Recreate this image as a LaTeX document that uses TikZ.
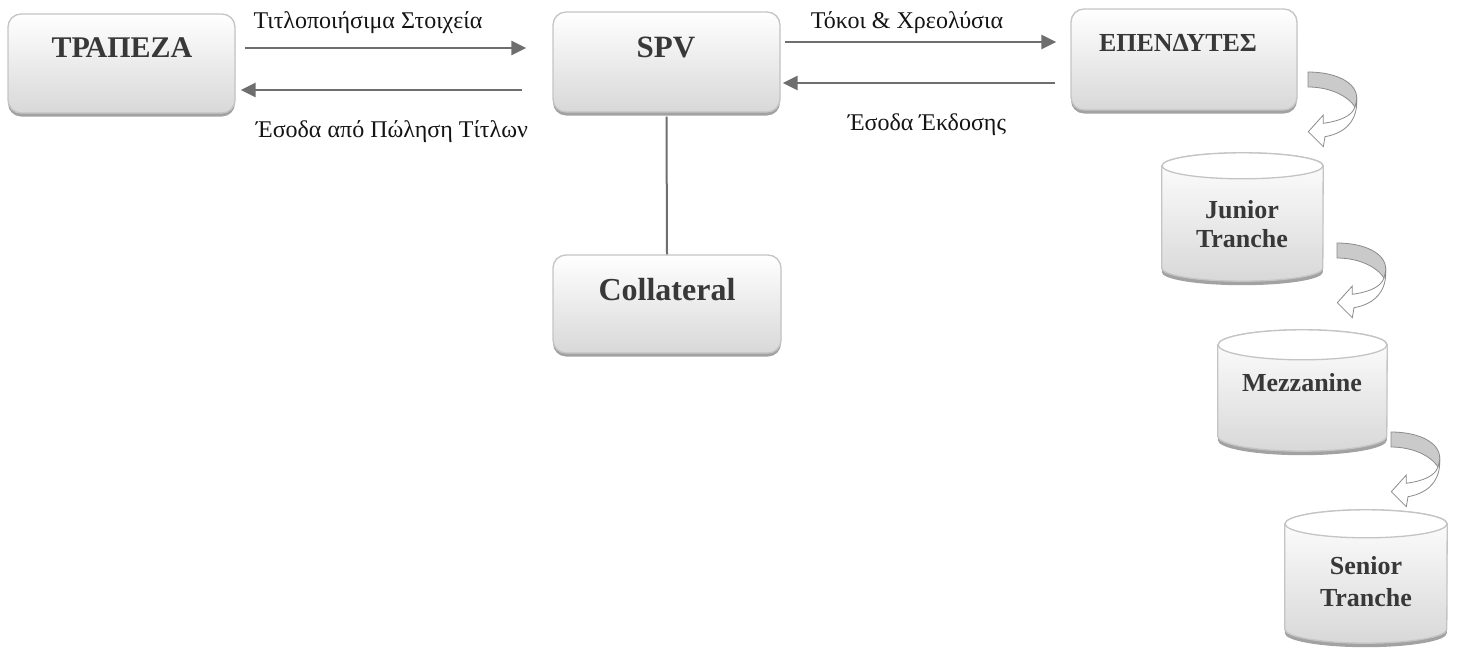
\documentclass[tikz,border=0pt]{standalone}
\usepackage{fontspec}
\setmainfont{Liberation Serif}
\usetikzlibrary{arrows.meta,shadows,calc}

\definecolor{edgegray}{HTML}{C4C4C4}
\definecolor{fillbot}{HTML}{D8D8D8}
\definecolor{shadowgray}{HTML}{A2A2A2}
\definecolor{flowgray}{HTML}{6E6E6E}
\definecolor{inkgray}{HTML}{383838}
\definecolor{bandgray}{HTML}{CACACA}
\definecolor{outlinegray}{HTML}{8A8A8A}

\tikzset{
  panel/.style={draw=edgegray, line width=1.3pt, rounded corners=13pt,
    top color=white, bottom color=fillbot, inner sep=0pt,
    drop shadow={shadow xshift=0pt, shadow yshift=-3.5pt, fill=shadowgray, opacity=1}},
  title/.style={font=\bfseries\fontsize{#1}{#1}\selectfont, text=inkgray, inner sep=0pt},
  caption/.style={font=\fontsize{24}{28}\selectfont, text=black!92, inner sep=0pt, anchor=base},
  flow/.style={draw=flowgray, line width=2.8pt, -{Triangle[length=15pt,width=14pt]}},
  tie/.style={draw=flowgray, line width=2pt},
  drumbody/.style={draw=edgegray, line width=1.3pt, top color=white, bottom color=fillbot,
    drop shadow={shadow xshift=0pt, shadow yshift=-4pt, fill=shadowgray, opacity=1}},
  drumtop/.style={draw=edgegray, line width=1.3pt, fill=white},
  turnarrow/.pic={
    % shaded back of the band
    \path[fill=bandgray, draw=outlinegray, line width=0.8pt]
      (0,0) .. controls (27,0) and (48.7,10) .. (48.7,26) -- (48.7,30)
      -- (47,35) .. controls (40,24) and (22,15) .. (0,15) -- cycle;
    % front of the band with the head
    \path[fill=white, draw=outlinegray, line width=0.8pt]
      (48.7,28) .. controls (49.5,48) and (38,61) .. (17,64.7)
      -- (15.3,74.7) -- (0.3,59.7) -- (15.3,43) -- (15.3,51.3)
      .. controls (32,49) and (44,44) .. (47,35) -- cycle;
  }
}

% cylinder: name, centre x, top y, width, height, half-height of the end ellipse
\newcommand\trancheDrum[6]{%
  \node[inner sep=0pt, minimum width=#4pt, minimum height=#5pt] (#1) at (#2,#3+#5/2) {};
  \path[drumbody] ($(#1.north west)+(0,#6)$) -- ($(#1.south west)+(0,-#6)$)
    arc[start angle=180, end angle=0, x radius=#4/2, y radius=#6]
    -- ($(#1.north east)+(0,#6)$)
    arc[start angle=0, end angle=-180, x radius=#4/2, y radius=#6] -- cycle;
  \path[drumtop] ($(#1.north)+(0,#6)$) ellipse[x radius=#4/2, y radius=#6];
}

\begin{document}
\begin{tikzpicture}[x=1pt, y=-1pt]
\useasboundingbox (0,0) rectangle (1457,648);

% boxes
\node[panel, minimum width=227pt, minimum height=99pt] (bank) at (121.5,63.5) {};
\node[panel, minimum width=227pt, minimum height=100pt] (spv) at (666.5,62) {};
\node[panel, minimum width=226pt, minimum height=101pt] (inv) at (1184,59.5) {};
\node[panel, minimum width=228pt, minimum height=98pt] (coll) at (667,304) {};

\node[title=30] (bankname) at (122,48) {ΤΡΑΠΕΖΑ};
\node[title=31] (spvname) at (666,47.5) {SPV};
\node[title=26] (invname) at (1178,43) {ΕΠΕΝΔΥΤΕΣ};
\node[title=32] (collname) at (667,290) {Collateral};

% flows between the parties
\draw[flow] ([xshift=9pt,yshift=15.5pt]bank.east) -- ([xshift=-26pt,yshift=14pt]spv.west);
\draw[flow] ([xshift=-30pt,yshift=-28pt]spv.west) -- ([xshift=5pt,yshift=-26.5pt]bank.east);
\draw[flow] ([xshift=4pt,yshift=20pt]spv.east) -- ([xshift=-14pt,yshift=17.5pt]inv.west);
\draw[flow] ([xshift=-15pt,yshift=-23.5pt]inv.west) -- ([xshift=2pt,yshift=-21pt]spv.east);
\draw[tie] ([yshift=-4pt]spv.south) -- (coll.north);

\node[caption] (lab1) at (368,28) {Τιτλοποιήσιμα Στοιχεία};
\node[caption] (lab2) at (392,137) {Έσοδα από Πώληση Τίτλων};
\node[caption] (lab3) at (907,28) {Τόκοι \& Χρεολύσια};
\node[caption] (lab4) at (927,130) {Έσοδα Έκδοσης};

% tranches
\trancheDrum{junior}{1242.5}{153}{161}{128}{13}
\trancheDrum{mezz}{1302.5}{330}{169}{121}{15}
\trancheDrum{senior}{1366}{510}{162}{133}{14}

\node[title=26, align=center, font=\bfseries\fontsize{26}{29}\selectfont] (juniorname) at (1242,224) {Junior\\Tranche};
\node[title=26, anchor=base] (mezzname) at (1302,391) {Mezzanine};
\node[title=26, align=center, font=\bfseries\fontsize{26}{32}\selectfont] (seniorname) at (1366,582) {Senior\\Tranche};

% turning arrows down the waterfall
\pic at (1308,72) {turnarrow};
\pic at (1337,243) {turnarrow};
\pic at (1391,432) {turnarrow};
\end{tikzpicture}
\end{document}
